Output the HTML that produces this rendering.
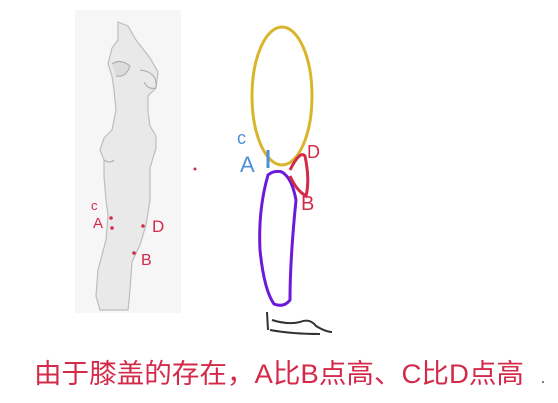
<!DOCTYPE html>
<html><head><meta charset="utf-8"><style>
html,body{margin:0;padding:0;background:#fff;width:558px;height:403px;overflow:hidden}
svg{display:block}
text{font-family:"Liberation Sans","Noto Sans CJK SC",sans-serif}
</style></head><body>
<svg width="558" height="403" viewBox="0 0 558 403">
<rect x="75" y="10" width="106" height="303" fill="#f6f6f6"/>
<path d="M118 22 L128 26 L136 40 L150 58 L158 72 L156 88 L148 96 L148 112 L150 126 L156 136 L156 148 L150 168 L150 200 L146 225 L140 245 L132 262 L130 290 L128 310 L100 310 L96 296 L98 270 L106 240 L108 215 L106 200 L104 176 L104 160 L100 150 L104 138 L112 130 L116 110 L114 90 L112 76 L108 64 L112 48 L118 40 Z" fill="#e9e9e9" stroke="#bdbdbd" stroke-width="1.2"/>
<path d="M112 64 Q120 58 130 66 Q126 78 116 76" fill="#dcdcdc" stroke="#aaa"/>
<path d="M140 70 Q158 72 156 88 Q148 90 144 82" fill="none" stroke="#aaa"/>
<path d="M104 160 Q110 164 114 160" fill="none" stroke="#aaa"/>
<g fill="#d42a4a">
<text x="91" y="210" font-size="13">c</text>
<text x="93" y="228" font-size="15">A</text>
<text x="152" y="232" font-size="17">D</text>
<text x="141" y="265" font-size="16">B</text>
<circle cx="111" cy="218" r="1.8"/><circle cx="112" cy="228" r="1.8"/>
<circle cx="143" cy="226" r="1.8"/><circle cx="134" cy="253" r="1.8"/>
<circle cx="195" cy="169" r="1.5"/>
</g>
<ellipse cx="282" cy="96" rx="30" ry="69" fill="none" stroke="#d8b52a" stroke-width="3"/>
<path d="M268 175 Q258 210 260 250 Q264 290 274 304 Q284 308 290 300 Q290 260 296 200 Q292 178 282 172 Q274 170 268 175 Z" fill="none" stroke="#6a1ad8" stroke-width="3"/>
<path d="M290 170 Q300 150 305 156 Q310 180 306 196 Q296 190 290 176" fill="none" stroke="#d42a4a" stroke-width="3"/>
<path d="M267 312 L268 330 M272 320 Q288 325 300 322 Q310 318 316 326 Q326 332 332 332 M270 330 Q292 334 320 334" fill="none" stroke="#333" stroke-width="2"/>
<path d="M268 150 L268 168" stroke="#4a90d9" stroke-width="3"/>
<text x="237" y="144" font-size="18" fill="#4a90d9">c</text>
<text x="240" y="172" font-size="22" fill="#4a90d9">A</text>
<text x="307" y="158" font-size="18" fill="#d42a4a">D</text>
<text x="301" y="210" font-size="20" fill="#d42a4a">B</text>
<text x="34" y="383" font-size="27" fill="#d42a4a" textLength="490" lengthAdjust="spacingAndGlyphs">由于膝盖的存在，A比B点高、C比D点高</text>
<circle cx="543" cy="382" r="1" fill="#555"/>
</svg>
</body></html>
